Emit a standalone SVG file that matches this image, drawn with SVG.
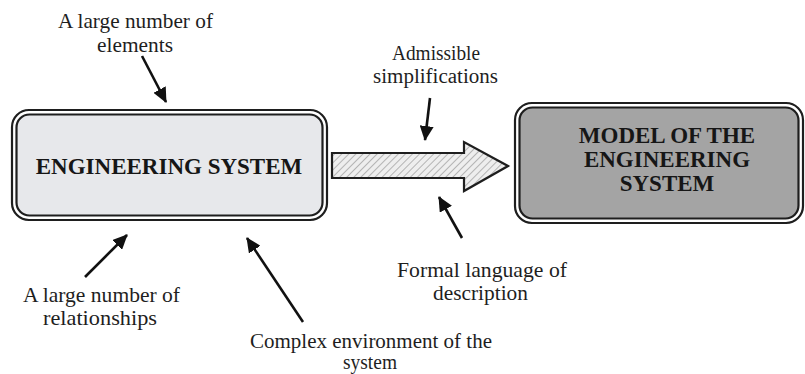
<svg xmlns="http://www.w3.org/2000/svg" width="805" height="374" viewBox="0 0 805 374">
<style>
.lbl{font-family:"Liberation Serif","Times New Roman",serif;font-size:22px;fill:#1e1e1e;text-anchor:middle}
.sm{font-size:20px}
.ttl{font-family:"Liberation Serif","Times New Roman",serif;font-size:23px;font-weight:bold;fill:#161616;text-anchor:middle}
.brd{fill:none;stroke:#1e1e1e;stroke-width:2.2}
.con{stroke:#111;stroke-width:2.6;fill:none;marker-end:url(#ah)}
</style>
<defs>
<marker id="ah" markerUnits="userSpaceOnUse" markerWidth="16" markerHeight="14" refX="14" refY="7" orient="auto">
<path d="M0,0 L15,7 L0,14 Z" fill="#111"/>
</marker>
<pattern id="hatch" patternUnits="userSpaceOnUse" width="5" height="5" patternTransform="rotate(45)">
<rect width="5" height="5" fill="#eeeeee"/>
<line x1="0" y1="0" x2="0" y2="5" stroke="#b4b4b4" stroke-width="2"/>
</pattern>
</defs>
<rect width="805" height="374" fill="#ffffff"/>

<g id="engineering-system">
<rect x="12" y="110" width="315" height="110" rx="17" class="brd"/>
<rect x="16.5" y="114.5" width="306" height="101" rx="13" fill="#e7e8eb" stroke="#1e1e1e" stroke-width="2.2"/>
<text class="ttl" x="169" y="174">ENGINEERING SYSTEM</text>
</g>

<g id="model">
<rect x="515" y="103" width="288" height="120" rx="17" class="brd"/>
<rect x="519.5" y="107.5" width="279" height="111" rx="13" fill="#a4a4a4" stroke="#1e1e1e" stroke-width="2.2"/>
<text class="ttl" x="667" y="143">MODEL OF THE</text>
<text class="ttl" x="667" y="167">ENGINEERING</text>
<text class="ttl" x="667" y="191">SYSTEM</text>
</g>

<g id="transition-arrow">
<path d="M332,153 L464,153 L464,142 L508,166 L464,191 L464,178 L332,178 Z" fill="url(#hatch)" stroke="#1e1e1e" stroke-width="2.2" stroke-linejoin="miter"/>
</g>

<g id="label-elements">
<text class="lbl" x="135.5" y="28" textLength="155" lengthAdjust="spacingAndGlyphs">A large number of</text>
<text class="lbl" x="135" y="52" textLength="76" lengthAdjust="spacingAndGlyphs">elements</text>
</g>
<g id="label-simplifications">
<text class="lbl sm" x="436" y="60" textLength="88" lengthAdjust="spacingAndGlyphs">Admissible</text>
<text class="lbl sm" x="435.5" y="83" textLength="125" lengthAdjust="spacingAndGlyphs">simplifications</text>
</g>
<g id="label-formal">
<text class="lbl" x="482" y="277" textLength="170" lengthAdjust="spacingAndGlyphs">Formal language of</text>
<text class="lbl" x="480.5" y="300" textLength="95" lengthAdjust="spacingAndGlyphs">description</text>
</g>
<g id="label-relationships">
<text class="lbl" x="101.5" y="302" textLength="157" lengthAdjust="spacingAndGlyphs">A large number of</text>
<text class="lbl" x="100" y="325" textLength="114" lengthAdjust="spacingAndGlyphs">relationships</text>
</g>
<g id="label-environment">
<text class="lbl sm" x="371" y="348" textLength="242" lengthAdjust="spacingAndGlyphs">Complex environment of the</text>
<text class="lbl sm" x="370" y="369" textLength="54" lengthAdjust="spacingAndGlyphs">system</text>
</g>

<g id="connectors">
<line class="con" x1="142" y1="56" x2="166" y2="102"/>
<line class="con" x1="430" y1="98" x2="425" y2="140"/>
<line class="con" x1="462" y1="238" x2="439" y2="197"/>
<line class="con" x1="85" y1="277" x2="127" y2="235"/>
<line class="con" x1="303" y1="322" x2="247" y2="238"/>
</g>
</svg>
